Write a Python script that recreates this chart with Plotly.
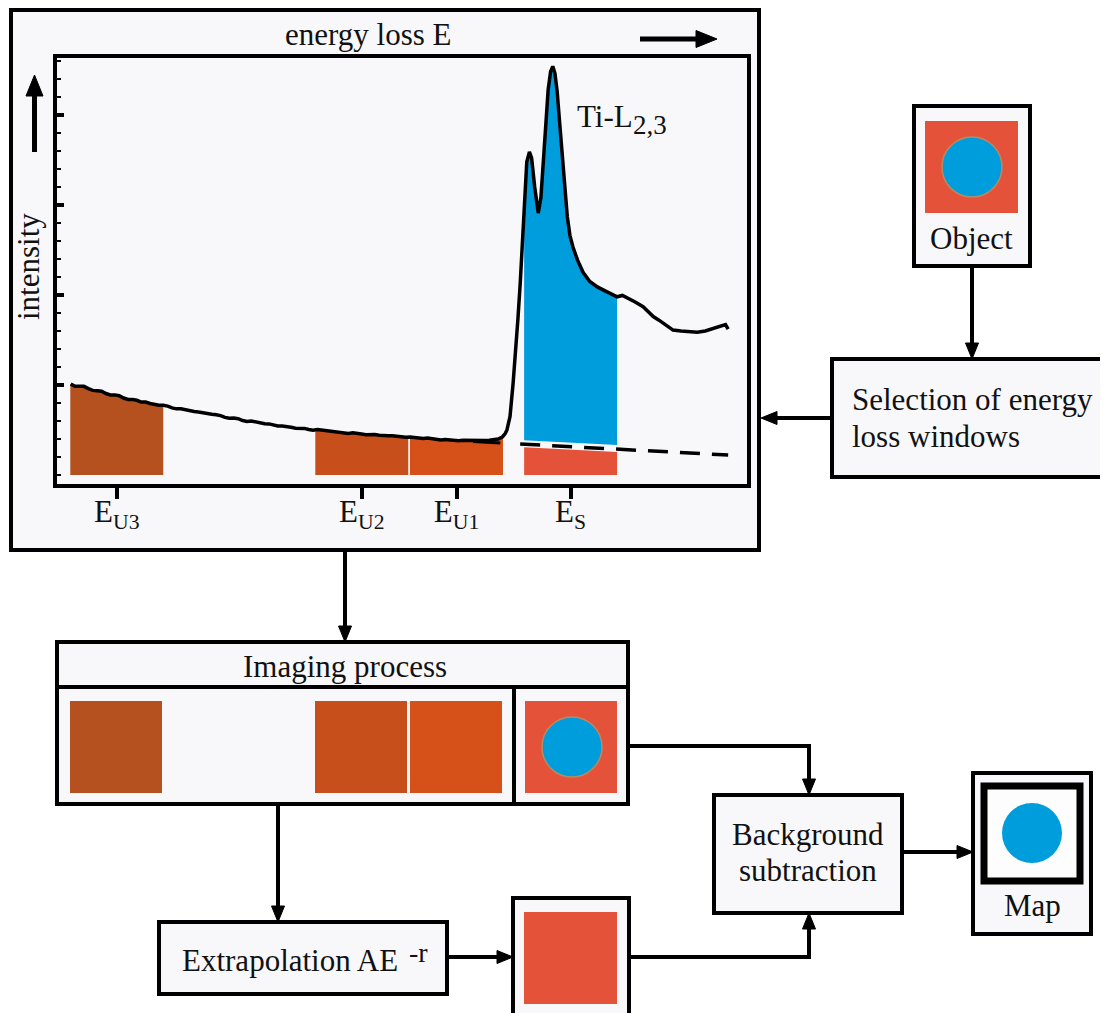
import numpy as np
import plotly.graph_objects as go

W, H = 1108, 1013
OFF = 8  # page body margin of the browser: the figure starts 8 px in

# ---------------- data ----------------
energy = [355, 356, 357, 358, 359, 360, 361, 362, 363, 364,
          365, 366, 367, 368, 369, 370, 371, 372, 373, 374,
          375, 376, 377, 378, 379, 380, 381, 382, 383, 384,
          385, 386, 387, 388, 389, 390, 391, 392, 393, 394,
          395, 396, 397, 398, 399, 400, 401, 402, 403, 404,
          405, 406, 407, 408, 409, 410, 411, 412, 413, 414,
          415, 416, 417, 418, 419, 420, 421, 422, 423, 424,
          425, 426, 427, 428, 429, 430, 431, 432, 433, 434,
          435, 436, 437, 438, 439, 440, 441, 442, 443, 444,
          445, 446, 447, 448, 449, 450,
          451, 452, 453, 453.6, 454.0, 454.7, 455.4, 456.0, 456.5, 457.0, 457.4, 457.9,
          458.5, 459.1, 459.6, 460.3, 461.1, 461.7, 462.2, 462.8, 463.35, 463.9,
          464.4, 464.9, 465.4, 465.9, 466.5, 467.1, 467.7, 468.3, 469.0, 470.0,
          471.3, 472.8, 474.5, 476.5, 478.0, 479.0, 480.2, 481.3, 483.0, 484.9,
          486.0, 487.2, 488.5, 490.0, 491.7, 493.5, 495.0, 497.2, 499.0, 500.8,
          502.0, 503.1, 503.6, 504.2]
intensity = [1.01, 0.985, 0.985, 0.985, 0.96, 0.94, 0.935, 0.93, 0.905, 0.89,
             0.89, 0.88, 0.855, 0.84, 0.84, 0.83, 0.81, 0.81, 0.795, 0.78,
             0.775, 0.775, 0.765, 0.745, 0.735, 0.735, 0.725, 0.71, 0.705, 0.70,
             0.69, 0.678, 0.675, 0.67, 0.66, 0.64, 0.63, 0.632, 0.625, 0.605,
             0.595, 0.60, 0.59, 0.575, 0.57, 0.568, 0.555, 0.545, 0.545, 0.542,
             0.53, 0.52, 0.52, 0.518, 0.505, 0.498, 0.505, 0.50, 0.49, 0.482,
             0.485, 0.48, 0.47, 0.462, 0.468, 0.465, 0.455, 0.448, 0.45, 0.45,
             0.442, 0.434, 0.435, 0.436, 0.43, 0.42, 0.42, 0.422, 0.418, 0.405,
             0.405, 0.41, 0.402, 0.392, 0.39, 0.395, 0.392, 0.382, 0.382, 0.386,
             0.385, 0.376, 0.378, 0.383, 0.382, 0.385,
             0.392, 0.40, 0.425, 0.46, 0.50, 0.65, 1.02, 1.38, 1.74, 2.12, 2.50, 3.04,
             3.48, 3.59, 3.52, 3.20, 2.91, 3.08, 3.42, 3.90, 4.28, 4.48,
             4.54, 4.46, 4.26, 3.95, 3.58, 3.20, 2.87, 2.66, 2.53, 2.39,
             2.25, 2.15, 2.09, 2.04, 2.00, 1.98, 1.995, 1.97, 1.925, 1.87,
             1.82, 1.76, 1.72, 1.665, 1.61, 1.60, 1.59, 1.585, 1.60, 1.625,
             1.64, 1.66, 1.67, 1.62]

# power-law background fit (solid under the pre-edge, dashed extrapolation)
fit_solid_energy = [446.3, 452.5]
fit_solid_intensity = [0.372, 0.356]
fit_energy = [457.0, 480.0, 504.2]
fit_intensity = [0.344, 0.285, 0.222]

# energy-loss windows
window_labels = ["E<sub>U3</sub>", "E<sub>U2</sub>", "E<sub>U1</sub>", "E<sub>S</sub>"]
window_lo = [354.9, 410.5, 432.0, 457.9]
window_hi = [376.0, 431.6, 453.1, 479.0]

# axis ticks
intensity_ticks = [1, 2, 3, 4]

# ---------------- styles ----------------
C_U3, C_U2, C_U1 = "#B5501F", "#C74F1C", "#D65019"
window_colors = [C_U3, C_U2, C_U1]
C_RED = "#E5523A"
C_BLUE = "#009DDC"
C_BOX = "#F8F8FA"
FONT = "Liberation Serif"
FS = 31
TXT = "#111111"

E = np.array(energy, float)
I = np.array(intensity, float)
FE = np.array(fit_energy, float)
FI = np.array(fit_intensity, float)


def seg(lo, hi):
    m = (E > lo) & (E < hi)
    xs = np.concatenate([[lo], E[m], [hi]])
    ys = np.concatenate([[np.interp(lo, E, I)], I[m], [np.interp(hi, E, I)]])
    return xs, ys


fig = go.Figure()

# background windows
for k in range(3):
    xs, ys = seg(window_lo[k], window_hi[k])
    fig.add_trace(go.Scatter(
        x=list(xs) + [window_hi[k], window_lo[k]],
        y=list(ys) + [0, 0],
        fill="toself", fillcolor=window_colors[k], mode="lines",
        line=dict(width=0), hoverinfo="skip", showlegend=False))

# signal window: blue above the background, red below
xs, ys = seg(window_lo[3], window_hi[3])
fb = np.interp(xs, FE, FI)
fig.add_trace(go.Scatter(
    x=list(xs) + list(xs[::-1]),
    y=list(ys) + list((fb + 0.045)[::-1]),
    fill="toself", fillcolor=C_BLUE, mode="lines", line=dict(width=0),
    hoverinfo="skip", showlegend=False))
fig.add_trace(go.Scatter(
    x=list(xs) + [window_hi[3], window_lo[3]],
    y=list(fb - 0.032) + [0, 0],
    fill="toself", fillcolor=C_RED, mode="lines", line=dict(width=0),
    hoverinfo="skip", showlegend=False))

# spectrum
fig.add_trace(go.Scatter(x=energy, y=intensity, mode="lines",
                         line=dict(color="black", width=3.5),
                         hoverinfo="skip", showlegend=False))
# fit lines
fig.add_trace(go.Scatter(x=fit_solid_energy, y=fit_solid_intensity, mode="lines",
                         line=dict(color="black", width=3),
                         hoverinfo="skip", showlegend=False))
fig.add_trace(go.Scatter(x=fit_energy, y=fit_intensity, mode="lines",
                         line=dict(color="black", width=3.5, dash="20px,12px"),
                         hoverinfo="skip", showlegend=False))

# ---------------- diagram helpers (pixel -> paper) ----------------
FW, FH = W - OFF, H - OFF


def fx(px):
    return (px - OFF) / FW


def fy(py):
    return 1 - (py - OFF) / FH


shapes = []
annotations = []


def rect(x0, y0, x1, y1, fill=C_BOX, lw=4, lc="black"):
    shapes.append(dict(type="rect", xref="paper", yref="paper",
                       x0=fx(x0), x1=fx(x1), y0=fy(y1), y1=fy(y0),
                       line=dict(color=lc, width=lw), fillcolor=fill, layer="below"))


def square(x0, y0, x1, y1, fill):
    shapes.append(dict(type="rect", xref="paper", yref="paper",
                       x0=fx(x0), x1=fx(x1), y0=fy(y1), y1=fy(y0),
                       line=dict(width=0), fillcolor=fill, layer="below"))


def circle(cx, cy, r, fill, lc=None, lw=0):
    shapes.append(dict(type="circle", xref="paper", yref="paper",
                       x0=fx(cx - r), x1=fx(cx + r), y0=fy(cy + r), y1=fy(cy - r),
                       line=dict(color=lc or fill, width=lw), fillcolor=fill, layer="below"))


def polyline(pts, lw=4):
    d = "M " + " L ".join(f"{fx(x)},{fy(y)}" for x, y in pts)
    shapes.append(dict(type="path", xref="paper", yref="paper", path=d,
                       line=dict(color="black", width=lw), fillcolor="rgba(0,0,0,0)",
                       layer="below"))


def arrow(pts, lw=4, hl=16, hw=13):
    (xa, ya), (xb, yb) = pts[-2], pts[-1]
    dx, dy = xb - xa, yb - ya
    L = (dx * dx + dy * dy) ** 0.5
    ux, uy = dx / L, dy / L
    bx, by = xb - ux * (hl - 2), yb - uy * (hl - 2)
    polyline(list(pts[:-1]) + [(bx, by)], lw)
    nx, ny = -uy, ux
    hb_x, hb_y = xb - ux * hl, yb - uy * hl
    p1 = (hb_x + nx * hw / 2, hb_y + ny * hw / 2)
    p2 = (hb_x - nx * hw / 2, hb_y - ny * hw / 2)
    d = f"M {fx(xb)},{fy(yb)} L {fx(p1[0])},{fy(p1[1])} L {fx(p2[0])},{fy(p2[1])} Z"
    shapes.append(dict(type="path", xref="paper", yref="paper", path=d,
                       line=dict(color="black", width=1), fillcolor="black", layer="below"))


def text(x, y, s, size=FS, xanchor="center", angle=0):
    annotations.append(dict(x=fx(x), y=fy(y), xref="paper", yref="paper", text=s,
                            showarrow=False, xanchor=xanchor, yanchor="middle",
                            textangle=angle,
                            font=dict(family=FONT, size=size, color=TXT)))


# spectrum panel
rect(11, 10, 759, 550)
text(368, 35, "energy loss E")
arrow([(640, 39), (717, 39)], lw=5, hl=21, hw=17)
text(29, 267, "intensity", angle=-90)
arrow([(34.5, 152), (34.5, 75)], lw=5, hl=21, hw=17)
text(575, 116, "Ti-L", xanchor="left")
text(631, 125, "2,3", size=27, xanchor="left")

# object
rect(914, 106, 1030, 266)
square(925, 121, 1018, 213, C_RED)
circle(972, 167, 30, C_BLUE, lc="#B98A62", lw=1.5)
text(971, 238, "Object")
arrow([(972, 266), (972, 359)])

# selection of windows
rect(832, 359, 1107, 477)
text(850, 399, "Selection of energy", xanchor="left")
text(850, 436, "loss windows", xanchor="left")
arrow([(832, 418), (761, 418)])

# to imaging
arrow([(345, 550), (345, 642)])

# imaging process
rect(57, 642, 628, 804)
polyline([(57, 687), (628, 687)])
polyline([(514, 687), (514, 804)])
text(345, 666, "Imaging process")
square(70, 701, 162, 793, C_U3)
square(315, 701, 407, 793, C_U2)
square(410, 701, 502, 793, C_U1)
square(525, 701, 617, 793, C_RED)
circle(572, 747, 30, C_BLUE, lc="#B98A62", lw=1.5)

# extrapolation
arrow([(278, 804), (278, 922)])
rect(159, 922, 447, 994)
text(290, 960, "Extrapolation AE")
text(407, 952, "-r", size=28, xanchor="left")
arrow([(447, 957), (513, 957)])

# background image
rect(513, 898, 629, 1030)
square(524, 912, 617, 1004, C_RED)
arrow([(629, 957), (809, 957), (809, 913)])

# imaging -> background subtraction
arrow([(628, 746), (809, 746), (809, 795)])

# background subtraction
rect(714, 795, 902, 913)
text(808, 834, "Background")
text(808, 870, "subtraction")
arrow([(902, 852), (973, 852)])

# map
rect(973, 773, 1091, 934)
rect(984, 786, 1080, 881, fill="#FDFDFE", lw=7)
circle(1032, 833, 30, C_BLUE)
text(1032, 905, "Map")

# ---------------- axes ----------------
x_range = [351.77, 508.48]
y_range = [-0.10, 4.633]
x_dom = [fx(56.5), fx(747)]
y_dom = [fy(484), fy(58)]
centers = [(a + b) / 2 for a, b in zip(window_lo, window_hi)]

fig.update_layout(
    width=FW, height=FH, margin=dict(l=0, r=0, t=0, b=0),
    paper_bgcolor="white", plot_bgcolor="rgba(0,0,0,0)",
    showlegend=False, shapes=shapes, annotations=annotations,
    xaxis=dict(domain=x_dom, range=x_range, showgrid=False, zeroline=False,
               showline=True, linecolor="black", linewidth=4, mirror=True,
               ticks="outside", ticklen=11, tickwidth=4, tickcolor="black",
               tickmode="array", tickvals=centers, ticktext=window_labels,
               ticklabelstandoff=-14,
               tickfont=dict(family=FONT, size=FS, color=TXT)),
    xaxis2=dict(overlaying="x", anchor="y", side="top", range=x_range,
                showgrid=False, zeroline=False, showline=False,
                ticks="inside", ticklen=7, tickwidth=4, tickcolor="black",
                tick0=360, dtick=20, showticklabels=False,
                minor=dict(ticks="inside", tick0=360, dtick=5, ticklen=4,
                           tickwidth=1.5, tickcolor="black", showgrid=False)),
    xaxis3=dict(overlaying="x", anchor="y", side="bottom", range=x_range,
                showgrid=False, zeroline=False, showline=False,
                ticks="inside", ticklen=12, tickwidth=4, tickcolor="black",
                tickmode="array", tickvals=centers, showticklabels=False),
    yaxis=dict(domain=y_dom, range=y_range, showgrid=False, zeroline=False,
               showline=True, linecolor="black", linewidth=4, mirror=True,
               ticks="inside", ticklen=7, tickwidth=4, tickcolor="black",
               tickmode="array", tickvals=intensity_ticks, showticklabels=False,
               minor=dict(ticks="inside", tick0=0, dtick=0.2, ticklen=4,
                          tickwidth=1.5, tickcolor="black", showgrid=False)),
)

fig.write_html("out.html")
